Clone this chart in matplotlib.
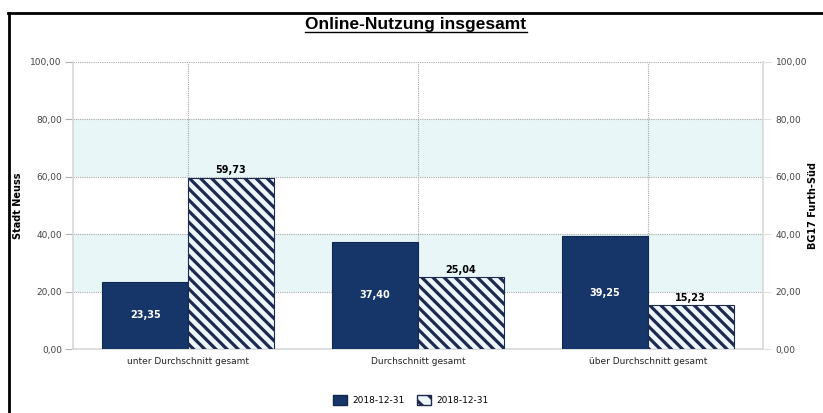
import matplotlib.pyplot as plt
import matplotlib.lines as mlines
import matplotlib.patches as mpatches
import numpy as np

categories = ["unter Durchschnitt gesamt", "Durchschnitt gesamt", "über Durchschnitt gesamt"]
stadt = [23.35, 37.40, 39.25]
bg17 = [59.73, 25.04, 15.23]
legend_labels = ["2018-12-31", "2018-12-31"]
yticks = [0, 20, 40, 60, 80, 100]

navy = "#16366a"
plt.rcParams['hatch.linewidth'] = 2.3
plt.rcParams['hatch.color'] = "#1b2a4e"

W, H = 823, 413
fig = plt.figure(figsize=(W / 100, H / 100), dpi=100)
ax = fig.add_axes([73 / W, (H - 349) / H, 690 / W, 287 / H])

# alternating bands
ax.axhspan(20, 40, color="#e8f6f8", zorder=0, lw=0)
ax.axhspan(60, 80, color="#e8f6f8", zorder=0, lw=0)

x = np.arange(len(categories))
bw = 0.372
b1 = ax.bar(x - bw / 2, stadt, bw, color=navy, edgecolor="#0f2850", lw=0.8, zorder=3)
b2 = ax.bar(x + bw / 2, bg17, bw, color="#eef6fc", edgecolor="#1b2a4e", hatch="\\\\\\", lw=0.8, zorder=3)

for r, v in zip(b1, stadt):
    ax.text(r.get_x() + r.get_width() / 2, v / 2, f"{v:.2f}".replace(".", ","),
            ha="center", va="center", color="white", fontsize=7, fontweight="bold", zorder=4)
for r, v in zip(b2, bg17):
    ax.text(r.get_x() + r.get_width() / 2, v + 0.8, f"{v:.2f}".replace(".", ","),
            ha="center", va="bottom", color="black", fontsize=7, fontweight="bold", zorder=4)

ax.set_xlim(-0.5, 2.5)
ax.set_ylim(0, 100)
ax.set_yticks(yticks)
ax.set_yticklabels([f"{t:.2f}".replace(".", ",") for t in yticks])
ax.set_xticks(x)
ax.set_xticklabels(categories)
ax.grid(True, color="#a8a8a8", linestyle=(0, (1, 1)), lw=0.8, zorder=1)
ax.tick_params(axis="y", length=6, color="#b0b0b0", labelsize=6.5, labelcolor="#444444", pad=2)
ax.tick_params(axis="x", length=0, labelsize=6.5, labelcolor="#222222", pad=6)
for s in ["left", "bottom", "right"]:
    ax.spines[s].set_color("#d8d8d8")
    ax.spines[s].set_linewidth(1.2)
ax.spines["top"].set_visible(False)
ax.set_ylabel("Stadt Neuss", fontsize=7, fontweight="bold")
ax.yaxis.set_label_coords((23 - 73) / 690, 0.5)

ax2 = ax.twinx()
ax2.set_ylim(0, 100)
ax2.set_yticks(yticks)
ax2.set_yticklabels([f"{t:.2f}".replace(".", ",") for t in yticks])
ax2.tick_params(axis="y", length=6, color="#e0e0e0", labelsize=6.5, labelcolor="#444444", pad=3)
for s in ax2.spines.values():
    s.set_visible(False)
ax2.set_ylabel("BG17 Furth-Süd", fontsize=7, fontweight="bold", rotation=90)
ax2.yaxis.set_label_coords((808 - 73) / 690, 0.5)

# outer frame lines
fig.add_artist(mlines.Line2D([9 / W, 9 / W], [0, 1 - 13 / H], color="black", lw=2))
fig.add_artist(mlines.Line2D([8 / W, 1], [1 - 13 / H, 1 - 13 / H], color="black", lw=2))

title = fig.text(416 / W, 1 - 24 / H, "Online-Nutzung insgesamt", ha="center", va="center",
                 fontsize=12.5, fontweight="bold", family="Liberation Sans")
fig.canvas.draw()
bb = title.get_window_extent().transformed(fig.transFigure.inverted())
fig.add_artist(mlines.Line2D([bb.x0, bb.x1], [bb.y0 - 0.002, bb.y0 - 0.002], color="black", lw=1))

handles = [mpatches.Patch(facecolor=navy, edgecolor="#0f2850"),
           mpatches.Patch(facecolor="#eef6fc", edgecolor="#1b2a4e", hatch="\\\\")]
fig.legend(handles, legend_labels, loc="center", bbox_to_anchor=(411 / W, 1 - 400 / H), ncol=2,
           frameon=False, fontsize=6.5, handlelength=1.5, handleheight=1.4, columnspacing=1.4,
           handletextpad=0.6)

fig.savefig("out.png", dpi=100)
